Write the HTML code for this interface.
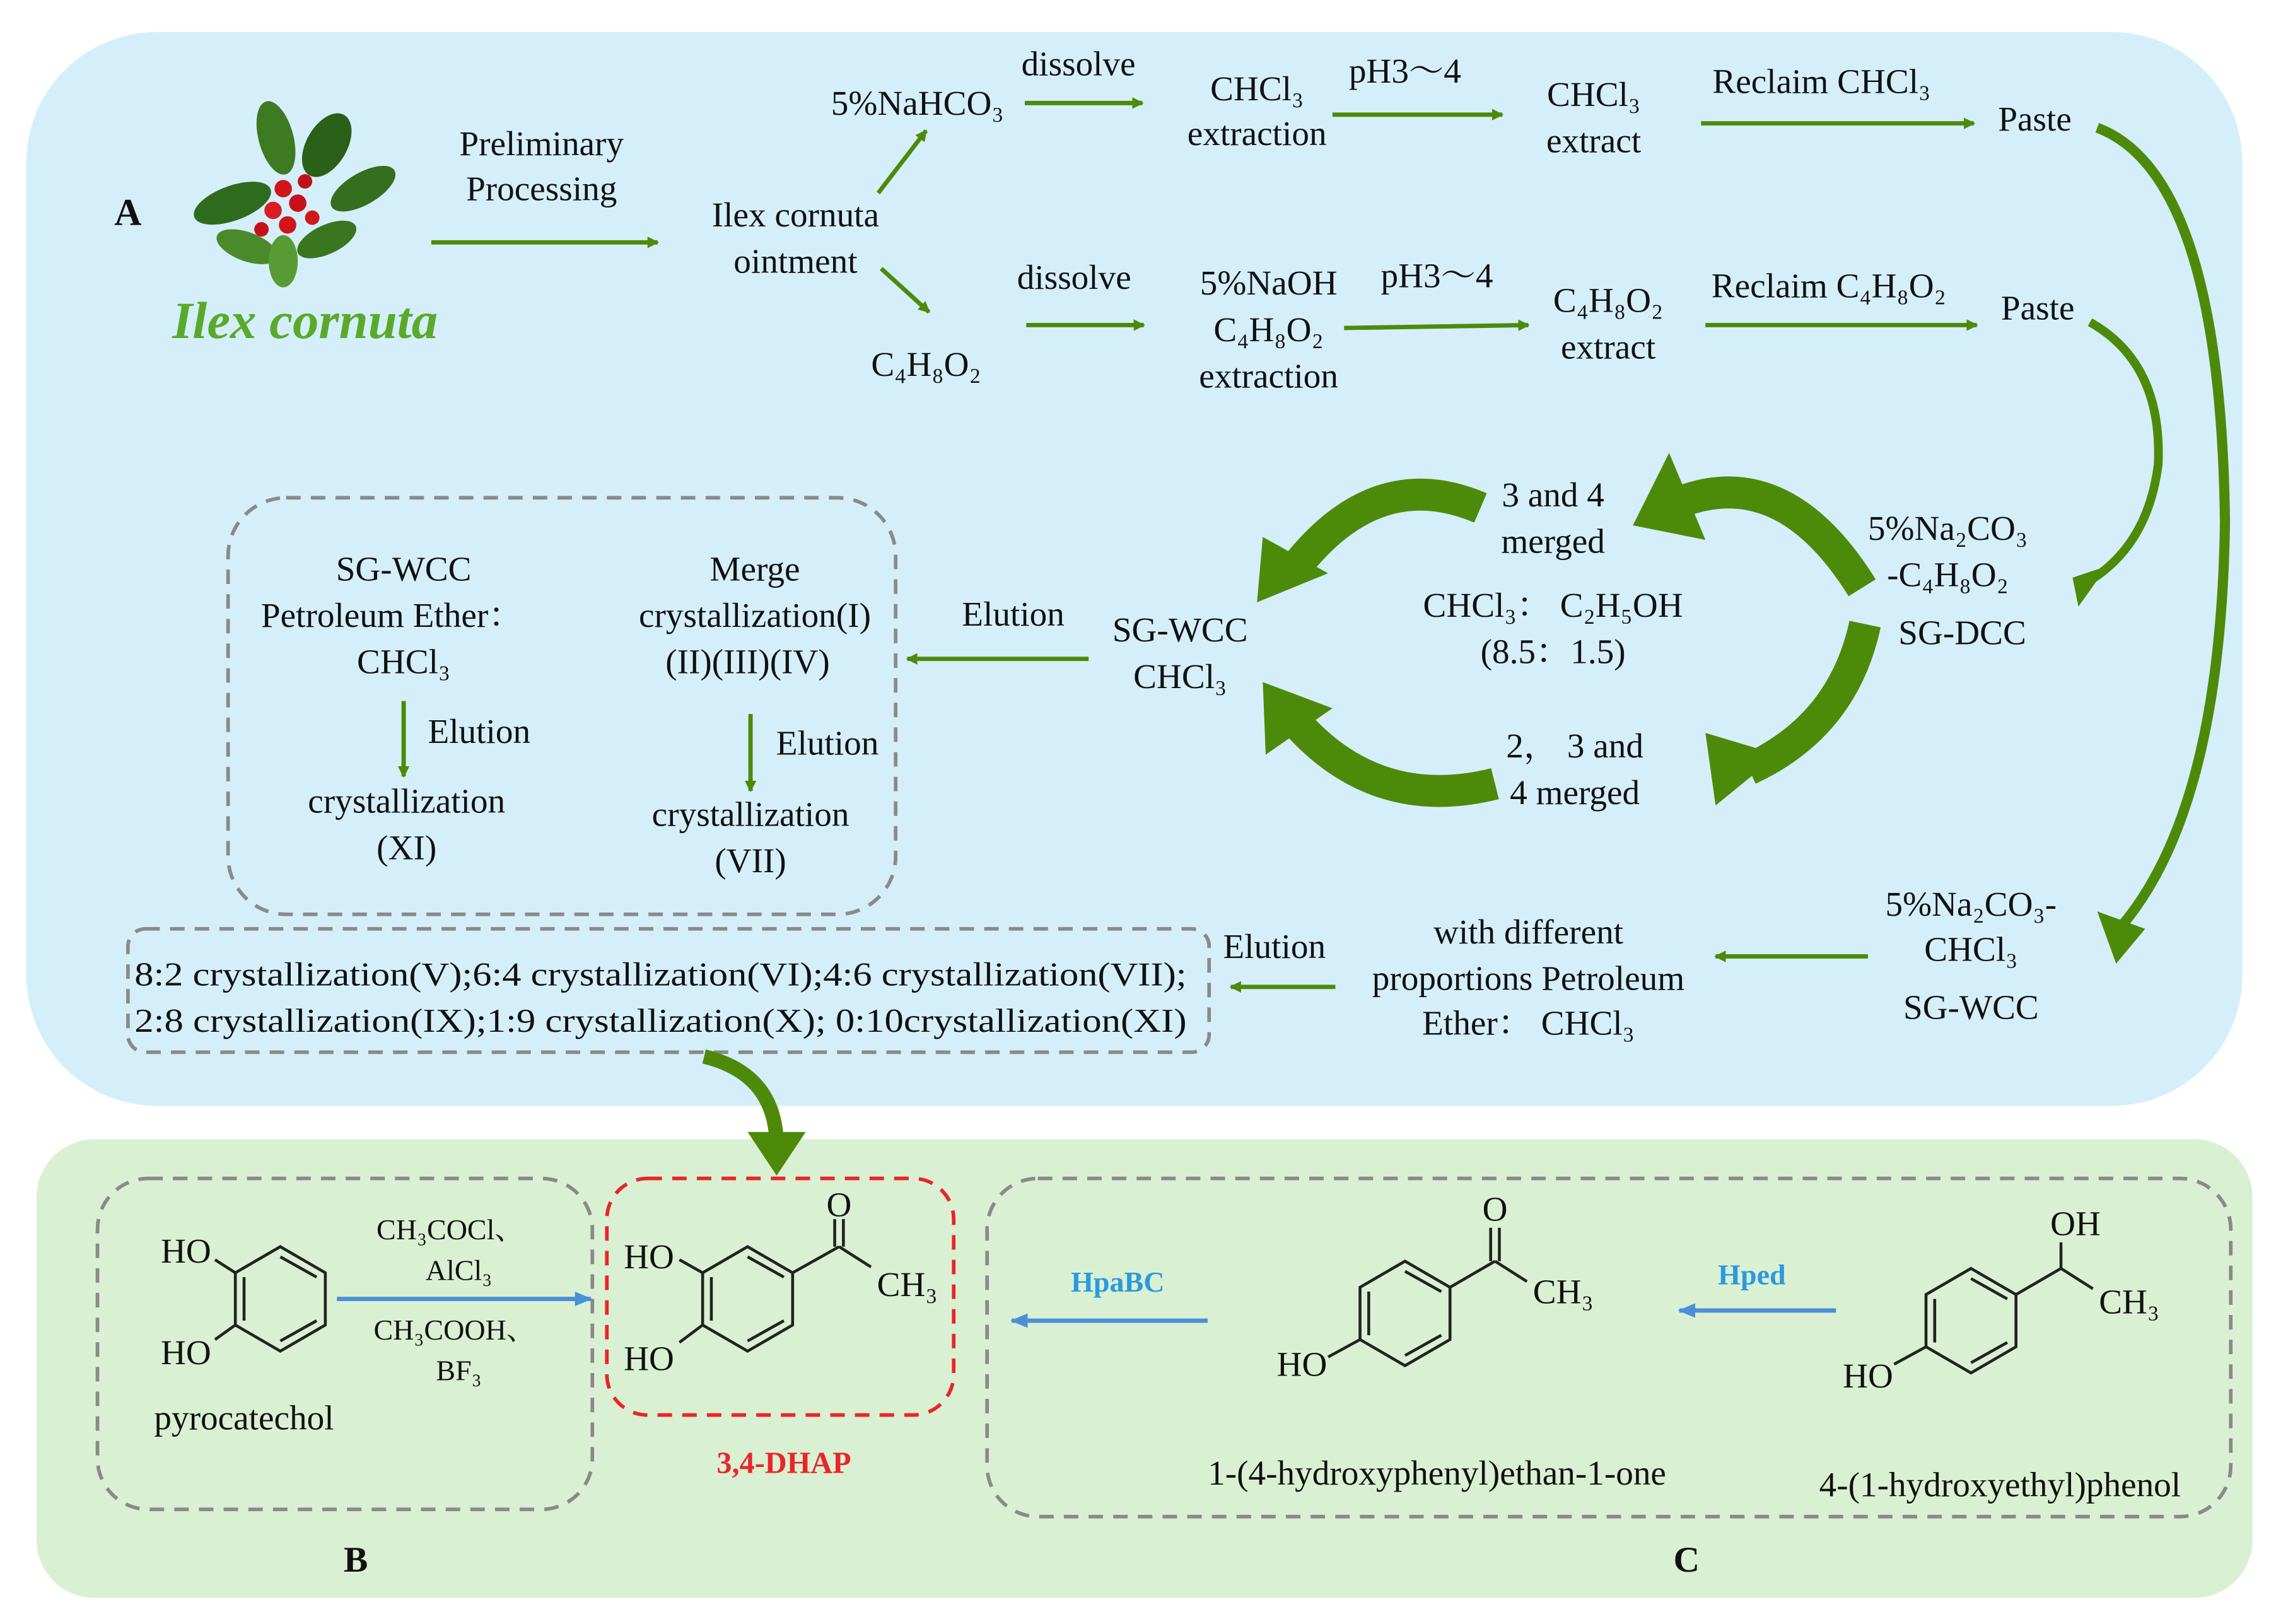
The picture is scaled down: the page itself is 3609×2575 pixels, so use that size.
<!DOCTYPE html>
<html><head><meta charset="utf-8"><style>
html,body{margin:0;padding:0;background:#fff;}
svg{display:block;}
svg text{font-family:"Liberation Serif","DejaVu Serif","Noto Serif CJK SC",serif;fill:#111;}
</style></head><body>
<svg width="3609" height="2575" viewBox="0 0 1568 1119" xmlns="http://www.w3.org/2000/svg">
<defs>
<marker id="ga" markerWidth="8" markerHeight="8" refX="7" refY="4" orient="auto" markerUnits="userSpaceOnUse"><path d="M0,0 L8,4 L0,8 z" fill="#4e8a0a"/></marker>
<marker id="ba" markerWidth="12" markerHeight="10" refX="11" refY="5" orient="auto" markerUnits="userSpaceOnUse"><path d="M0,0 L12,5 L0,10 z" fill="#4a90d9"/></marker>
</defs>
<rect x="18" y="22" width="1527" height="740" rx="90" fill="#d5effa"/>
<rect x="25" y="785" width="1527" height="316" rx="40" fill="#daf0d2"/>

<g font-size="24" text-anchor="middle" font-family="Liberation Serif, DejaVu Serif, serif">
<text x="88" y="155" font-weight="bold" font-size="26">A</text>
<g>
<ellipse cx="160" cy="140" rx="28" ry="12" fill="#2f6b1c" transform="rotate(-20 160 140)"/>
<ellipse cx="190" cy="95" rx="12" ry="26" fill="#3d7a22" transform="rotate(-15 190 95)"/>
<ellipse cx="225" cy="100" rx="14" ry="24" fill="#2c5f18" transform="rotate(30 225 100)"/>
<ellipse cx="250" cy="130" rx="25" ry="11" fill="#356e1e" transform="rotate(-30 250 130)"/>
<ellipse cx="170" cy="170" rx="22" ry="10" fill="#4a8a2a" transform="rotate(20 170 170)"/>
<ellipse cx="225" cy="165" rx="22" ry="10" fill="#3a7520" transform="rotate(-25 225 165)"/>
<ellipse cx="195" cy="180" rx="10" ry="18" fill="#5a9a34"/>
<circle cx="195" cy="130" r="6" fill="#d0151b"/><circle cx="205" cy="140" r="6" fill="#c8101a"/>
<circle cx="188" cy="145" r="6" fill="#d81e22"/><circle cx="210" cy="125" r="5" fill="#c0121a"/>
<circle cx="198" cy="155" r="6" fill="#d0151b"/><circle cx="215" cy="150" r="5" fill="#cc1a1a"/>
<circle cx="180" cy="158" r="5" fill="#c8101a"/>
</g>
<text x="210" y="233" font-size="36" font-weight="bold" font-style="italic" style="fill:#5aaa2a">Ilex cornuta</text>

<text x="373" y="107">Preliminary</text><text x="373" y="138">Processing</text>
<line x1="297" y1="167" x2="453" y2="167" stroke="#4e8a0a" stroke-width="3" marker-end="url(#ga)"/>
<text x="548" y="156">Ilex cornuta</text><text x="548" y="188">ointment</text>
<line x1="605" y1="133" x2="638" y2="90" stroke="#4e8a0a" stroke-width="3" marker-end="url(#ga)"/>
<line x1="607" y1="185" x2="640" y2="215" stroke="#4e8a0a" stroke-width="3" marker-end="url(#ga)"/>

<text x="632" y="79">5%NaHCO₃</text><text x="743" y="52">dissolve</text>
<line x1="706" y1="71" x2="787" y2="71" stroke="#4e8a0a" stroke-width="3" marker-end="url(#ga)"/>
<text x="866" y="69">CHCl₃</text><text x="866" y="100">extraction</text>
<text x="968" y="57">pH3～4</text>
<line x1="918" y1="79" x2="1035" y2="79" stroke="#4e8a0a" stroke-width="3" marker-end="url(#ga)"/>
<text x="1098" y="73">CHCl₃</text><text x="1098" y="105">extract</text>
<text x="1255" y="64">Reclaim CHCl₃</text>
<line x1="1172" y1="85" x2="1360" y2="85" stroke="#4e8a0a" stroke-width="3" marker-end="url(#ga)"/>
<text x="1402" y="90">Paste</text>

<text x="638" y="259">C₄H₈O₂</text><text x="740" y="199">dissolve</text>
<line x1="707" y1="224" x2="788" y2="224" stroke="#4e8a0a" stroke-width="3" marker-end="url(#ga)"/>
<text x="874" y="203">5%NaOH</text><text x="874" y="235">C₄H₈O₂</text><text x="874" y="267">extraction</text>
<text x="990" y="198">pH3～4</text>
<line x1="926" y1="226" x2="1053" y2="224" stroke="#4e8a0a" stroke-width="3" marker-end="url(#ga)"/>
<text x="1108" y="215">C₄H₈O₂</text><text x="1108" y="247">extract</text>
<text x="1260" y="205">Reclaim C₄H₈O₂</text>
<line x1="1175" y1="224" x2="1362" y2="224" stroke="#4e8a0a" stroke-width="3" marker-end="url(#ga)"/>
<text x="1404" y="220">Paste</text>

<path d="M1445,88 Q1530,120 1533,360 Q1530,560 1460,640" fill="none" stroke="#4e8a0a" stroke-width="7"/>
<polygon points="1445,628 1478,640 1458,664" fill="#4e8a0a"/>
<path d="M1440,222 Q1490,250 1487,320 Q1480,375 1440,400" fill="none" stroke="#4e8a0a" stroke-width="6"/>
<polygon points="1428,398 1452,390 1432,418" fill="#4e8a0a"/>

<text x="1342" y="372">5%Na₂CO₃</text><text x="1342" y="404">-C₄H₈O₂</text><text x="1352" y="444">SG-DCC</text>

<path d="M1283,405 Q1230,320 1160,345" fill="none" stroke="#4e8a0a" stroke-width="22"/>
<polygon points="1125,362 1150,312 1175,372" fill="#4e8a0a"/>
<path d="M1020,350 Q950,320 895,388" fill="none" stroke="#4e8a0a" stroke-width="22"/>
<polygon points="866,415 870,370 915,395" fill="#4e8a0a"/>
<path d="M1285,430 Q1270,500 1205,530" fill="none" stroke="#4e8a0a" stroke-width="22"/>
<polygon points="1182,555 1175,505 1225,520" fill="#4e8a0a"/>
<path d="M1030,540 Q950,560 895,500" fill="none" stroke="#4e8a0a" stroke-width="22"/>
<polygon points="870,470 872,520 918,488" fill="#4e8a0a"/>

<text x="1070" y="349">3 and 4</text><text x="1070" y="381">merged</text>
<text x="1070" y="425">CHCl₃：  C₂H₅OH</text><text x="1070" y="457">(8.5：1.5)</text>
<text x="1085" y="522">2，  3 and</text><text x="1085" y="554">4 merged</text>

<text x="813" y="442">SG-WCC</text><text x="813" y="474">CHCl₃</text>
<line x1="750" y1="454" x2="625" y2="454" stroke="#4e8a0a" stroke-width="3" marker-end="url(#ga)"/>
<text x="698" y="431">Elution</text>

<rect x="157" y="343" width="460" height="287" rx="40" fill="none" stroke="#8a8a8a" stroke-width="2.5" stroke-dasharray="10,7"/>
<text x="278" y="400">SG-WCC</text><text x="270" y="432">Petroleum Ether：</text><text x="278" y="464">CHCl₃</text>
<line x1="278" y1="483" x2="278" y2="535" stroke="#4e8a0a" stroke-width="3" marker-end="url(#ga)"/>
<text x="330" y="512">Elution</text>
<text x="280" y="560">crystallization</text><text x="280" y="592">(XI)</text>
<text x="520" y="400">Merge</text><text x="520" y="432">crystallization(I)</text><text x="515" y="464">(II)(III)(IV)</text>
<line x1="517" y1="492" x2="517" y2="545" stroke="#4e8a0a" stroke-width="3" marker-end="url(#ga)"/>
<text x="570" y="520">Elution</text>
<text x="517" y="569">crystallization</text><text x="517" y="601">(VII)</text>

<text x="1358" y="631">5%Na₂CO₃-</text><text x="1358" y="662">CHCl₃</text><text x="1358" y="702">SG-WCC</text>
<line x1="1287" y1="659" x2="1182" y2="659" stroke="#4e8a0a" stroke-width="3" marker-end="url(#ga)"/>
<text x="1053" y="650">with different</text><text x="1053" y="682">proportions Petroleum</text><text x="1053" y="713">Ether：  CHCl₃</text>
<line x1="920" y1="680" x2="848" y2="680" stroke="#4e8a0a" stroke-width="3" marker-end="url(#ga)"/>
<text x="878" y="660">Elution</text>
<rect x="88" y="640" width="745" height="85" rx="12" fill="none" stroke="#8a8a8a" stroke-width="2.5" stroke-dasharray="10,7"/>
<text x="455" y="679" font-size="23" textLength="725" lengthAdjust="spacingAndGlyphs">8:2 crystallization(V);6:4 crystallization(VI);4:6 crystallization(VII);</text>
<text x="455" y="711" font-size="23" textLength="725" lengthAdjust="spacingAndGlyphs">2:8 crystallization(IX);1:9 crystallization(X); 0:10crystallization(XI)</text>

<path d="M485,728 Q535,740 535,790" fill="none" stroke="#4e8a0a" stroke-width="10"/>
<polygon points="515,780 555,780 535,810" fill="#4e8a0a"/>

<rect x="67" y="812" width="341" height="228" rx="35" fill="none" stroke="#8a8a8a" stroke-width="2.5" stroke-dasharray="10,7"/>
<rect x="418" y="812" width="239" height="163" rx="28" fill="none" stroke="#e8262a" stroke-width="2.5" stroke-dasharray="10,7"/>
<rect x="680" y="812" width="857" height="233" rx="35" fill="none" stroke="#8a8a8a" stroke-width="2.5" stroke-dasharray="10,7"/>

<g fill="none" stroke="#222" stroke-width="2">
<polygon points="193,859 224,877 224,913 193,931 162,913 162,877"/>
<line x1="193" y1="866" x2="218" y2="880"/><line x1="218" y1="910" x2="193" y2="924"/><line x1="168" y1="880" x2="168" y2="910"/>
<line x1="162" y1="877" x2="148" y2="868"/><line x1="162" y1="913" x2="148" y2="923"/>
<polygon points="515,859 546,877 546,913 515,931 484,913 484,877"/>
<line x1="515" y1="866" x2="540" y2="880"/><line x1="540" y1="910" x2="515" y2="924"/><line x1="490" y1="880" x2="490" y2="910"/>
<line x1="484" y1="877" x2="468" y2="868"/><line x1="484" y1="913" x2="468" y2="925"/>
<line x1="546" y1="877" x2="578" y2="859"/><line x1="575" y1="859" x2="575" y2="840"/><line x1="581" y1="859" x2="581" y2="840"/><line x1="578" y1="859" x2="600" y2="873"/>
<polygon points="968,869 999,887 999,923 968,941 937,923 937,887"/>
<line x1="968" y1="876" x2="993" y2="890"/><line x1="993" y1="920" x2="968" y2="934"/><line x1="943" y1="890" x2="943" y2="920"/>
<line x1="937" y1="923" x2="915" y2="935"/><line x1="999" y1="887" x2="1030" y2="869"/>
<line x1="1027" y1="869" x2="1027" y2="846"/><line x1="1033" y1="869" x2="1033" y2="846"/><line x1="1030" y1="869" x2="1052" y2="883"/>
<polygon points="1358,874 1389,892 1389,928 1358,946 1327,928 1327,892"/>
<line x1="1358" y1="881" x2="1383" y2="895"/><line x1="1383" y1="925" x2="1358" y2="939"/><line x1="1333" y1="895" x2="1333" y2="925"/>
<line x1="1327" y1="928" x2="1305" y2="940"/><line x1="1389" y1="892" x2="1420" y2="874"/><line x1="1420" y1="874" x2="1420" y2="856"/><line x1="1420" y1="874" x2="1442" y2="888"/>
</g>
<text x="128" y="870">HO</text><text x="128" y="940">HO</text>
<text x="447" y="874">HO</text><text x="447" y="944">HO</text><text x="578" y="838">O</text><text x="625" y="893">CH₃</text>
<text x="897" y="948">HO</text><text x="1030" y="841">O</text><text x="1077" y="898">CH₃</text>
<text x="1287" y="956">HO</text><text x="1430" y="851">OH</text><text x="1467" y="905">CH₃</text>

<line x1="232" y1="895" x2="407" y2="895" stroke="#4a90d9" stroke-width="3" marker-end="url(#ba)"/>
<text x="310" y="854" font-size="20">CH₃COCl、</text><text x="316" y="882" font-size="20">AlCl₃</text>
<text x="313" y="923" font-size="20">CH₃COOH、</text><text x="316" y="951" font-size="20">BF₃</text>
<text x="168" y="985">pyrocatechol</text>
<line x1="832" y1="910" x2="697" y2="910" stroke="#4a90d9" stroke-width="3" marker-end="url(#ba)"/>
<text x="770" y="890" font-size="20" font-weight="bold" style="fill:#2a9ae0">HpaBC</text>
<line x1="1265" y1="903" x2="1157" y2="903" stroke="#4a90d9" stroke-width="3" marker-end="url(#ba)"/>
<text x="1207" y="885" font-size="20" font-weight="bold" style="fill:#2a9ae0">Hped</text>
<text x="540" y="1015" font-size="21" font-weight="bold" style="fill:#e8262a">3,4-DHAP</text>
<text x="990" y="1023">1-(4-hydroxyphenyl)ethan-1-one</text>
<text x="1378" y="1031">4-(1-hydroxyethyl)phenol</text>
<text x="245" y="1083" font-weight="bold" font-size="25">B</text>
<text x="1162" y="1083" font-weight="bold" font-size="25">C</text>
</g>
</svg>
</body></html>
